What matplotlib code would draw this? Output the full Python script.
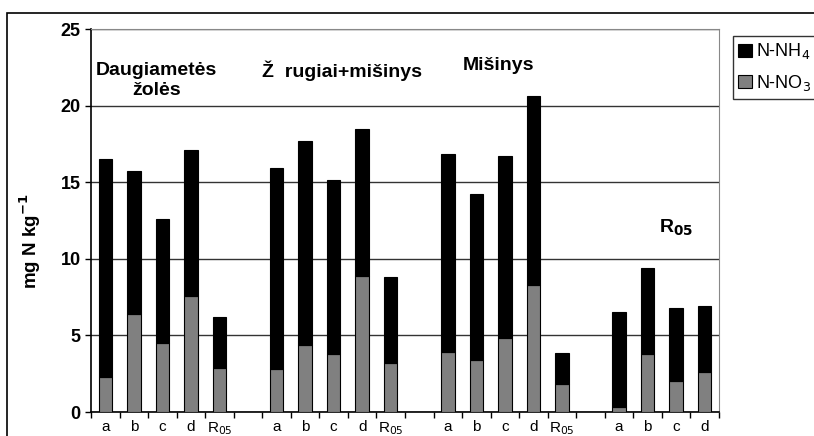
import matplotlib.pyplot as plt
import numpy as np
from matplotlib.patches import Rectangle

plt.rcParams['font.family'] = ['Liberation Sans', 'DejaVu Sans']

# tick labels along x (blank slots separate the groups)
labels = ['a', 'b', 'c', 'd', 'R$_{05}$', '',
          'a', 'b', 'c', 'd', 'R$_{05}$', '',
          'a', 'b', 'c', 'd', 'R$_{05}$', '',
          'a', 'b', 'c', 'd']

# N-NO3 (lower part) and N-NH4 (upper part), mg N kg-1; None = empty slot
no3 = [2.3, 6.4, 4.5, 7.6, 2.9, None,
       2.8, 4.4, 3.8, 8.9, 3.2, None,
       3.9, 3.4, 4.8, 8.3, 1.85, None,
       0.33, 3.8, 2.05, 2.6]
nh4 = [14.2, 9.3, 8.1, 9.5, 3.3, None,
       13.1, 13.3, 11.35, 9.6, 5.6, None,
       12.95, 10.85, 11.9, 12.3, 2.0, None,
       6.2, 5.6, 4.75, 4.3]

groups = ['Daugiametės\nžolės', 'Ž  rugiai+mišinys', 'Mišinys']

fig = plt.figure(figsize=(8.14, 4.36), dpi=100)
fig.patches.append(Rectangle((7 / 814, -0.1), 1.2, (436 - 13) / 436 + 0.1,
                             transform=fig.transFigure, fill=False,
                             edgecolor='black', linewidth=1.2))
ax = fig.add_axes([91 / 814, 24 / 436, 628 / 814, 383 / 436])

x = np.arange(len(labels))
idx = [i for i in x if no3[i] is not None]
lo = np.array([no3[i] for i in idx])
hi = np.array([nh4[i] for i in idx])
w = 0.47
ax.bar(idx, lo, w, color='#808080', edgecolor='black', linewidth=0.8,
       label='N-NO$_3$', zorder=3)
ax.bar(idx, hi, w, bottom=lo, color='black', edgecolor='black',
       linewidth=0.8, label='N-NH$_4$', zorder=3)

ax.set_xlim(-0.5, len(labels) - 0.5)
ax.set_ylim(0, 25)
ax.set_yticks(np.arange(0, 26, 5))
ax.yaxis.grid(True, color='#333333', linewidth=1.0, zorder=0)
ax.set_axisbelow(True)

ax.set_xticks(x)
ax.set_xticklabels(labels, fontsize=11)
ax.tick_params(axis='x', which='major', length=0, pad=6)
ax.set_xticks(np.arange(-0.5, len(labels), 1), minor=True)
ax.tick_params(axis='x', which='minor', length=4, direction='out', width=1)
ax.tick_params(axis='y', length=4, width=1, labelsize=13)
for t in ax.get_yticklabels():
    t.set_fontweight('bold')

ax.spines['left'].set_linewidth(1.2)
ax.spines['bottom'].set_linewidth(1.2)
ax.spines['top'].set_color('#888888')
ax.spines['right'].set_color('#888888')

ax.set_ylabel('mg N kg$^{\\mathbf{-1}}$', fontsize=13.5, fontweight='bold')
ax.yaxis.set_label_coords(-0.077, 0.446)

ax.text(1.78, 21.65, groups[0], fontsize=14, fontweight='bold',
        ha='center', va='center', linespacing=1.25)
ax.text(8.29, 22.3, groups[1], fontsize=14, fontweight='bold',
        ha='center', va='center')
ax.text(13.76, 22.65, groups[2], fontsize=14, fontweight='bold',
        ha='center', va='center')
ax.text(19.99, 12.0, 'R$_{\\mathbf{05}}$', fontsize=14, fontweight='bold',
        ha='center', va='center')

h, l = ax.get_legend_handles_labels()
fig.legend(h[::-1], l[::-1], loc='upper left',
           bbox_to_anchor=(733 / 814, 1 - 36 / 436), fontsize=13,
           frameon=True, fancybox=False, edgecolor='black',
           handlelength=0.75, handleheight=0.75, handletextpad=0.25,
           borderpad=0.3, labelspacing=0.65, borderaxespad=0)

plt.savefig('out.png', dpi=100)
